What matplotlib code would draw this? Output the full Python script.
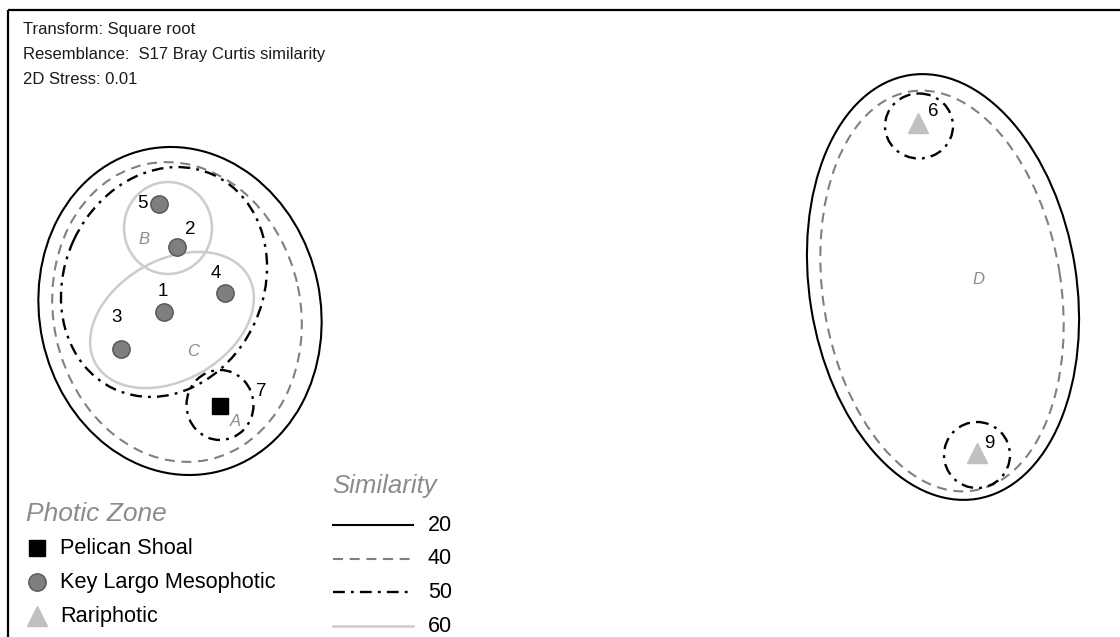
import matplotlib.pyplot as plt
from matplotlib.patches import Ellipse
from matplotlib.lines import Line2D

plt.rcParams['font.family'] = ['Liberation Sans', 'DejaVu Sans']

# nMDS ordination (plot units, y grows downward)
sample_ids = ['1', '2', '3', '4', '5', '6', '7', '9']
zones = ['Key Largo Mesophotic', 'Key Largo Mesophotic', 'Key Largo Mesophotic',
         'Key Largo Mesophotic', 'Key Largo Mesophotic', 'Rariphotic',
         'Pelican Shoal', 'Rariphotic']
mds_x = [164, 177, 121, 225, 159, 918, 220, 977]
mds_y = [312, 247, 349, 293, 204, 123, 406, 453]

# similarity contours: level, centre x, centre y, width, height, angle
contour_level = [20, 40, 50, 50, 60, 60, 20, 40, 50, 50]
contour_cx = [180, 177, 164, 220, 168, 172, 943, 942, 919, 977]
contour_cy = [311, 312, 282, 405, 228, 320, 287, 291, 126, 455]
contour_w = [330, 302, 236, 67, 88, 176, 429, 404, 68, 66]
contour_h = [281, 247, 199, 70, 92, 120, 267, 238, 65, 66]
contour_ang = [78, 78, -65, 0, 0, -30, 81, 81, 0, 0]

group_names = ['A', 'B', 'C', 'D']
group_x = [235, 144, 193, 978]
group_y = [422, 240, 351, 280]

header_lines = ['Transform: Square root',
                'Resemblance:  S17 Bray Curtis similarity',
                '2D Stress: 0.01']

zone_order = ['Pelican Shoal', 'Key Largo Mesophotic', 'Rariphotic']
sim_levels = [20, 40, 50, 60]

# styles
zone_style = {
    'Pelican Shoal': dict(marker='s', color='black', edgecolor='black', size=12),
    'Key Largo Mesophotic': dict(marker='o', color='#7f7f7f', edgecolor='#555555', size=12.5),
    'Rariphotic': dict(marker='^', color='#c0c0c0', edgecolor='#c0c0c0', size=15),
}
line_style = {
    20: dict(color='black', lw=1.5, ls='-'),
    40: dict(color='#808080', lw=1.5, ls=(0, (4.8, 3.2))),
    50: dict(color='black', lw=1.7, ls=(0, (5.0, 2.6, 1.2, 2.6))),
    60: dict(color='#cccccc', lw=1.8, ls='-'),
}
label_offset = {'1': (-1, -20), '2': (13, -17), '3': (-4, -32), '4': (-9, -20),
                '5': (-17, 0), '6': (15, -11), '7': (41, -15), '9': (12, -10)}

fig = plt.figure(figsize=(11.2, 6.37), dpi=100)
ax = fig.add_axes([0, 0, 1, 1])
ax.set_xlim(0, 1120)
ax.set_ylim(637, 0)
ax.axis('off')

# frame (top and left only)
ax.plot([8, 1120], [10, 10], color='black', lw=1.6, solid_capstyle='butt')
ax.plot([8, 8], [10, 637], color='black', lw=1.6, solid_capstyle='butt')

for y, line in zip([34, 59, 84], header_lines):
    ax.text(23, y, line, fontsize=12, va='baseline', ha='left', color='#1a1a1a')

# contours, drawn from low to high similarity
order = sorted(range(len(contour_level)), key=lambda i: contour_level[i])
for i in order:
    st = line_style[contour_level[i]]
    ax.add_patch(Ellipse((contour_cx[i], contour_cy[i]), contour_w[i], contour_h[i],
                         angle=contour_ang[i], fill=False, edgecolor=st['color'],
                         lw=st['lw'], ls=st['ls']))

for name, gx, gy in zip(group_names, group_x, group_y):
    ax.text(gx, gy, name, fontsize=12, style='italic', color='#8c8c8c',
            ha='center', va='center')

for sid, z, x, y in zip(sample_ids, zones, mds_x, mds_y):
    st = zone_style[z]
    ax.plot(x, y, marker=st['marker'], ms=st['size'], mfc=st['color'],
            mec=st['edgecolor'], mew=1, ls='none', zorder=5)
    dx, dy = label_offset[sid]
    ax.text(x + dx, y + dy, sid, fontsize=13.5, ha='center', va='center', zorder=6)

# photic zone legend
ax.text(26, 521, 'Photic Zone', fontsize=19, style='italic', color='#8c8c8c', va='baseline')
for k, z in enumerate(zone_order):
    st = zone_style[z]
    yy = 548 + 34 * k
    ax.plot(37, yy, marker=st['marker'], ms=st['size'], mfc=st['color'],
            mec=st['edgecolor'], mew=1, ls='none')
    ax.text(60, yy + 6, z, fontsize=15.7, va='baseline', ha='left')

# similarity legend
ax.text(332, 493, 'Similarity', fontsize=18.5, style='italic', color='#8c8c8c', va='baseline')
for k, lev in enumerate(sim_levels):
    st = line_style[lev]
    yy = 525 + 33.5 * k
    ax.add_line(Line2D([333, 413], [yy, yy], color=st['color'], lw=st['lw'], ls=st['ls']))
    ax.text(428, yy + 6, str(lev), fontsize=15.5, va='baseline', ha='left')

fig.savefig('out.png', dpi=100)
